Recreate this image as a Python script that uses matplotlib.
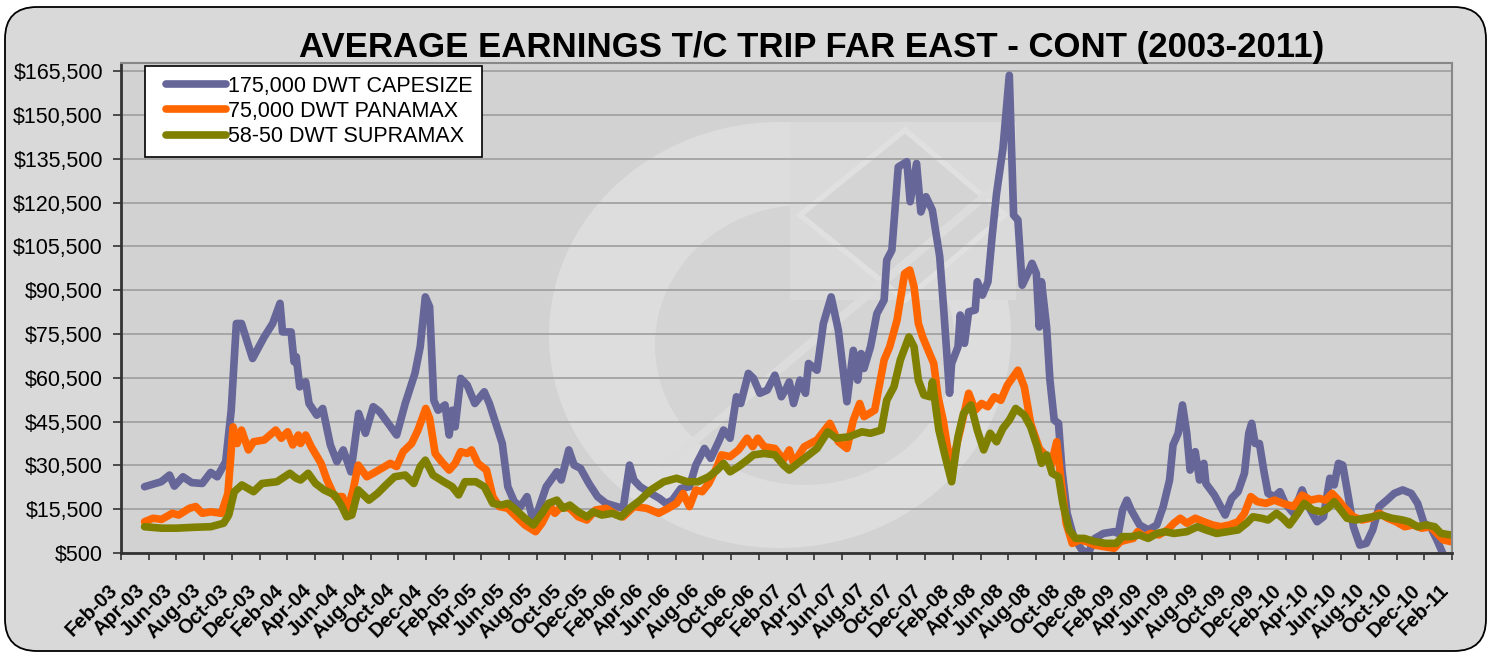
import numpy as np
import matplotlib.pyplot as plt
from matplotlib.patches import FancyBboxPatch, Ellipse, Polygon, Rectangle
from matplotlib.transforms import ScaledTranslation
from matplotlib.legend_handler import HandlerLine2D

plt.rcParams['font.family'] = ['Liberation Sans', 'DejaVu Sans']

# x = months since Feb-2003, y = USD thousands per day
cape_x = [1.7, 2.9, 3.5, 3.85, 4.47, 5.1, 5.86, 6.47, 6.94, 7.55, 7.95, 8.32, 8.69, 9.49, 10.33,
          10.94, 11.47, 11.65, 12.27, 12.48, 12.64, 12.89, 13.32, 13.56, 14.12, 14.55, 15.1, 15.57,
          16.03, 16.58, 16.89, 17.14, 17.63, 18.19, 18.65, 19.27, 19.88, 20.5, 21.2, 21.58, 21.95,
          22.26, 22.56, 22.87, 23.37, 23.67, 23.89, 24.1, 24.5, 24.97, 25.52, 26.2, 26.57, 27.07,
          27.5, 27.9, 28.36, 28.82, 29.28, 29.75, 30.05, 30.67, 31.44, 31.75, 32.3, 32.68, 33.14,
          33.75, 34.37, 34.99, 35.76, 36.22, 36.68, 36.99, 37.45, 38.22, 38.84, 39.3, 39.77, 40.38,
          41.0, 41.46, 42.08, 42.54, 43.16, 43.46, 43.93, 44.39, 44.7, 45.25, 45.62, 46.08, 46.61,
          47.16, 47.63, 48.0, 48.2, 48.51, 48.97, 49.37, 49.59, 50.2, 50.66, 51.22, 51.74, 52.36,
          52.82, 53.13, 53.38, 53.59, 54.06, 54.52, 55.04, 55.23, 55.6, 56.06, 56.68, 56.92, 57.38,
          57.69, 58.06, 58.52, 59.05, 59.36, 59.76, 59.91, 60.37, 60.53, 60.84, 61.14, 61.61, 61.76,
          62.13, 62.53, 62.84, 63.15, 63.61, 64.07, 64.38, 64.69, 65.0, 65.4, 65.71, 66.02, 66.23,
          66.39, 66.76, 67.0, 67.31, 67.62, 67.87, 68.24, 68.7, 69.31, 69.78, 70.24, 70.86, 71.63,
          71.93, 72.24, 72.55, 72.86, 73.47, 74.09, 74.71, 75.17, 75.63, 75.88, 76.25, 76.56, 76.87,
          77.11, 77.48, 77.79, 78.1, 78.25, 78.87, 79.64, 80.1, 80.57, 81.03, 81.34, 81.55, 81.8,
          82.11, 82.42, 82.73, 83.19, 83.59, 83.96, 84.57, 85.19, 85.65, 86.27, 86.73, 87.19, 87.5,
          87.81, 88.12, 88.52, 88.89, 89.35, 89.82, 90.28, 90.75, 91.3, 91.83, 92.44, 93.06, 93.52,
          93.98, 94.44, 94.91, 95.37, 95.9]
cape_y = [23.2, 24.9, 27.2, 23.4, 26.6, 24.6, 24.3, 28.1, 26.6, 31.8, 49.4, 79.1, 79.1, 67.1, 74.5,
          79.1, 86.0, 76.2, 76.2, 66.0, 67.7, 57.4, 59.1, 51.7, 47.7, 50.0, 37.5, 31.8,
          35.8, 28.3, 39.2, 48.3, 41.5, 50.6, 48.9, 44.9, 40.9, 51.7, 62.0, 71.1, 88.2,
          84.8, 52.8, 49.4, 51.2, 40.9, 49.4, 43.7, 60.3, 58.0, 51.7, 55.7, 51.7, 44.3,
          38.0, 23.2, 18.1, 16.4, 19.8, 11.2, 14.6, 23.2, 28.3, 25.5, 35.8, 30.6, 29.5,
          24.3, 19.8, 17.5, 16.4, 15.8, 30.6, 25.5, 23.2, 20.9, 19.2, 17.5, 18.6, 22.6,
          23.2, 30.6, 36.3, 32.9, 39.2, 42.6, 39.8, 54.0, 51.7, 62.0, 60.3, 55.2, 56.3,
          61.4, 54.0, 57.0, 59.1, 51.7, 59.7, 55.2, 65.4, 63.1, 79.1, 88.2, 76.8, 52.3,
          69.9, 59.7, 68.8, 63.7, 71.1, 82.5, 87.1, 100.8, 104.2, 132.7, 134.5, 120.8, 133.9,
          117.3, 122.5, 117.9, 102.0, 82.5, 55.2, 65.4, 71.1, 82.0, 72.3, 83.1, 83.7, 93.4,
          88.8, 93.4, 109.4, 123.6, 139.0, 164.1, 116.2, 114.5, 92.2, 96.2, 99.7, 96.2, 77.9,
          93.4, 77.9, 59.7, 46.0, 44.9, 28.9, 14.1, 6.1, 1.5, 0.5, 5.5, 7.2, 7.8,
          7.2, 15.2, 18.6, 15.2, 10.1, 8.4, 10.1, 16.4, 25.5, 37.5, 41.5, 51.2, 41.5,
          28.9, 35.2, 25.5, 31.2, 24.3, 20.3, 13.5, 19.2, 21.5, 27.8, 41.5, 44.9, 38.0,
          38.0, 28.9, 20.9, 19.8, 21.5, 17.5, 14.1, 22.1, 16.4, 11.2, 12.9, 26.1, 23.8,
          31.2, 30.6, 19.8, 9.5, 3.2, 3.8, 8.4, 16.4, 18.6, 20.9, 22.1, 20.9, 17.5,
          10.7, 9.5, 5.0, 0.0, -4.0]

pana_x = [1.7, 2.31, 2.93, 3.7, 4.16, 4.93, 5.39, 5.86, 6.47, 7.24, 7.71, 8.08, 8.38, 8.69, 9.19,
          9.56, 10.33, 11.16, 11.56, 12.02, 12.39, 12.79, 12.95, 13.32, 13.72, 14.43, 14.86, 15.41,
          15.97, 16.34, 16.74, 17.11, 17.73, 18.19, 18.8, 19.42, 19.88, 20.35, 20.96, 21.42, 21.98,
          22.26, 22.66, 23.12, 23.67, 24.1, 24.5, 24.97, 25.28, 25.74, 26.36, 26.82, 27.28, 27.9,
          28.51, 29.13, 29.9, 30.36, 30.98, 31.29, 31.75, 32.37, 32.98, 33.6, 34.22, 34.99, 35.76,
          36.22, 36.99, 37.92, 38.78, 39.46, 40.07, 40.54, 41.0, 41.46, 41.92, 42.39, 43.0, 43.31,
          43.93, 44.54, 45.16, 45.56, 45.93, 46.39, 47.16, 47.78, 48.2, 48.51, 49.28, 50.2, 51.13,
          51.74, 52.36, 52.82, 53.28, 53.59, 54.36, 55.04, 55.44, 55.97, 56.52, 56.89, 57.2, 57.51,
          57.82, 58.22, 58.62, 58.93, 59.3, 59.76, 60.07, 60.53, 61.14, 61.61, 62.07, 62.53, 62.99,
          63.46, 63.92, 64.69, 65.15, 65.61, 66.23, 66.76, 67.06, 67.49, 67.77, 68.17, 68.61, 69.16,
          69.62, 70.24, 70.86, 71.63, 72.09, 72.55, 73.01, 73.32, 73.78, 74.25, 74.86, 75.48, 75.94,
          76.4, 76.87, 77.48, 78.1, 78.72, 79.33, 79.95, 80.57, 81.03, 81.49, 81.95, 82.57, 83.19,
          83.8, 84.57, 85.19, 85.81, 86.42, 86.88, 87.35, 87.81, 88.27, 88.89, 89.51, 90.12, 90.75,
          91.36, 91.97, 92.59, 93.2, 93.82, 94.44, 94.91, 95.37, 95.9]
pana_y = [11.2, 12.4, 12.0, 14.1, 13.5, 15.8, 16.4, 14.1, 14.6, 14.1, 20.9, 43.7, 38.0, 42.6, 35.8,
          38.6, 39.2, 42.6, 39.8, 42.0, 37.5, 40.9, 38.0, 40.9, 36.9, 31.2, 25.5, 19.8,
          19.8, 15.2, 22.1, 30.6, 26.6, 27.8, 29.5, 31.2, 30.1, 35.2, 38.0, 42.6, 50.0,
          46.6, 34.6, 31.8, 28.9, 31.2, 35.2, 34.6, 35.8, 31.2, 28.9, 19.8, 16.4, 15.8,
          12.9, 10.1, 7.8, 10.7, 16.4, 14.1, 16.4, 15.8, 12.9, 11.8, 15.2, 15.8, 13.5,
          12.9, 16.4, 15.8, 14.1, 15.8, 17.5, 20.9, 16.4, 22.1, 21.5, 24.3, 30.1, 34.1,
          33.5, 35.8, 39.8, 36.9, 39.8, 36.9, 36.3, 32.4, 35.8, 31.2, 36.9, 39.2, 44.9,
          38.6, 36.3, 46.0, 51.7, 47.2, 49.4, 66.6, 71.1, 80.2, 96.2, 97.4, 91.7, 79.1,
          74.5, 69.9, 65.4, 54.0, 46.0, 32.4, 33.5, 42.6, 55.2, 49.4, 51.7, 50.6, 54.0,
          52.8, 57.9, 63.1, 57.4, 44.9, 36.3, 33.5, 30.1, 38.6, 26.6, 10.7, 3.8, 5.0,
          4.4, 3.2, 2.7, 2.1, 4.4, 5.0, 5.5, 7.8, 6.1, 7.2, 6.7, 8.4, 10.7,
          12.4, 10.7, 12.4, 11.2, 10.1, 9.5, 10.1, 11.2, 14.1, 19.8, 18.1, 17.5, 18.6,
          17.5, 16.4, 20.3, 18.6, 19.2, 18.6, 20.9, 18.6, 15.8, 12.9, 11.8, 12.4, 14.1,
          12.4, 11.2, 9.5, 10.1, 9.0, 9.5, 7.2, 5.0, 4.4]

supra_x = [1.7, 2.93, 4.0, 5.24, 6.47, 7.4, 7.77, 8.17, 8.72, 9.56, 10.17, 11.25, 12.18, 12.64,
           12.95, 13.5, 14.03, 14.64, 15.41, 15.88, 16.28, 16.65, 17.11, 17.88, 18.5, 19.11, 19.73,
           20.5, 21.12, 21.58, 21.95, 22.5, 23.27, 23.89, 24.35, 24.81, 25.59, 26.2, 26.82, 27.44,
           27.9, 28.36, 29.13, 29.75, 30.36, 30.83, 31.44, 31.9, 32.37, 32.98, 33.6, 34.06, 34.68,
           35.45, 36.07, 36.68, 37.45, 38.22, 39.15, 40.07, 40.84, 41.62, 42.39, 43.0, 43.46, 43.93,
           44.54, 45.16, 45.62, 46.39, 47.16, 47.78, 48.2, 48.82, 49.43, 50.2, 50.97, 51.59, 52.51,
           53.44, 54.06, 54.83, 55.23, 55.75, 56.21, 56.83, 57.2, 57.51, 57.91, 58.37, 58.52, 58.99,
           59.45, 59.91, 60.37, 60.77, 61.3, 61.76, 62.22, 62.69, 63.15, 63.61, 64.07, 64.53, 65.15,
           65.61, 66.08, 66.39, 66.76, 67.16, 67.62, 67.93, 68.39, 68.85, 69.47, 70.24, 71.0, 71.78,
           72.24, 72.86, 73.47, 74.09, 74.71, 75.32, 75.94, 76.87, 77.64, 78.25, 79.02, 79.8, 80.57,
           81.18, 81.64, 82.26, 82.73, 83.34, 83.8, 84.27, 84.88, 85.34, 85.96, 86.58, 87.04, 87.5,
           87.97, 88.43, 89.05, 89.66, 90.28, 90.89, 91.66, 92.44, 92.9, 93.52, 94.13, 94.75, 95.21,
           95.9]
supra_y = [9.5, 9.0, 9.0, 9.3, 9.5, 10.7, 13.5, 21.5, 23.8, 21.5, 24.3, 24.9, 27.8, 26.1,
           25.5, 27.8, 24.3, 22.1, 20.4, 16.9, 12.9, 13.5, 22.1, 18.6, 20.9, 23.8, 26.6,
           27.2, 24.3, 30.1, 32.3, 27.2, 24.9, 23.2, 20.4, 24.9, 24.9, 23.2, 17.5, 16.9,
           17.5, 15.8, 12.4, 10.1, 14.1, 17.5, 18.6, 15.8, 16.9, 14.6, 12.9, 14.6, 13.5,
           14.1, 12.9, 15.8, 18.6, 22.1, 24.9, 26.1, 24.9, 24.9, 26.6, 28.9, 31.2, 28.3,
           30.1, 32.3, 34.1, 34.6, 34.1, 30.6, 28.9, 31.2, 33.5, 36.3, 42.0, 39.8, 40.3,
           42.0, 41.5, 42.6, 52.8, 57.4, 66.6, 74.5, 71.1, 59.7, 54.6, 54.0, 59.1, 42.6,
           33.5, 24.9, 40.3, 48.3, 51.2, 42.6, 35.8, 41.5, 38.6, 43.2, 46.0, 50.0, 47.7,
           43.7, 36.9, 31.2, 34.1, 27.8, 26.6, 17.5, 8.4, 5.5, 5.5, 4.4, 3.8, 3.8,
           6.1, 6.1, 6.7, 5.5, 7.2, 7.8, 7.2, 7.8, 9.5, 8.4, 7.2, 7.8, 8.4,
           10.7, 12.9, 12.4, 11.8, 14.1, 12.4, 10.1, 14.1, 17.5, 15.2, 14.6, 15.8, 18.1,
           15.2, 12.4, 11.8, 12.4, 12.9, 13.5, 12.4, 11.8, 11.2, 9.5, 10.1, 9.5, 7.2,
           6.7]

series_names = ['175,000 DWT CAPESIZE', '75,000 DWT PANAMAX', '58-50 DWT SUPRAMAX']
series_colors = ['#666699', '#FF6600', '#808000']

month_names = ['Feb', 'Apr', 'Jun', 'Aug', 'Oct', 'Dec']
tick_pos = np.arange(0, 97, 2)
tick_labels = [f"{month_names[i % 6]}-{3 + i // 6:02d}" for i in range(len(tick_pos))]
y_ticks = np.arange(500, 165501, 15000)

W, H = 1489, 653
fig = plt.figure(figsize=(W / 100, H / 100), dpi=100)
fig.patch.set_facecolor('white')

# background canvas in pixel coordinates
bg = fig.add_axes([0, 0, 1, 1], zorder=0)
bg.set_xlim(0, W)
bg.set_ylim(H, 0)
bg.axis('off')
bg.add_patch(FancyBboxPatch((5, 7), 1481, 644, boxstyle='round,pad=0,rounding_size=32',
                            facecolor='#d9d9d9', edgecolor='black', linewidth=1.3))
bg.add_patch(Rectangle((121, 63), 1331, 490, facecolor='#d2d2d2', edgecolor='none'))
# faint watermark logo
bg.add_patch(Ellipse((780, 335), 462, 426, facecolor='#dddddd', edgecolor='none'))
bg.add_patch(Ellipse((805, 345), 300, 280, facecolor='#d4d4d4', edgecolor='none'))
bg.add_patch(Polygon([(790, 122), (1016, 122), (1016, 300), (790, 300)], closed=True,
                     facecolor='#dadada', edgecolor='none'))
bg.add_patch(Polygon([(800, 215), (905, 130), (1005, 215), (905, 300)], closed=True,
                     facecolor='#d4d4d4', edgecolor='#e0e0e0', linewidth=4))
bg.plot([660, 1010], [470, 175], color='#dcdcdc', linewidth=6, solid_capstyle='butt')

ax = fig.add_axes([121 / W, 1 - 553 / H, 1331 / W, 490 / H], zorder=1)
ax.set_facecolor('none')

for xs, ys, name, col in zip([cape_x, pana_x, supra_x], [cape_y, pana_y, supra_y],
                             series_names, series_colors):
    ax.plot(xs, np.array(ys) * 1000, color=col, linewidth=5.5, label=name,
            solid_joinstyle='round', solid_capstyle='round')

ax.set_xlim(0, 96)
ax.set_ylim(500, 168300)
ax.set_yticks(y_ticks)
ax.set_yticklabels([f"${v:,}" for v in y_ticks], fontsize=15.5)
ax.set_xticks(tick_pos)
ax.set_xticklabels(tick_labels, rotation=45, ha='right', va='top', fontsize=14.5,
                   fontweight='bold')
shift = ScaledTranslation(-9 / 100, 0, fig.dpi_scale_trans)
for lab in ax.get_xticklabels():
    lab.set_transform(lab.get_transform() + shift)
ax.tick_params(axis='x', direction='out', length=5, width=1.2, pad=15, color='#333333')
ax.tick_params(axis='y', direction='out', length=6, width=1.2, pad=7, color='#333333')
ax.grid(axis='y', color='#999999', linewidth=1.1)
ax.set_axisbelow(True)
for side in ['left', 'bottom']:
    ax.spines[side].set_color('#333333')
    ax.spines[side].set_linewidth(2)
for side in ['top', 'right']:
    ax.spines[side].set_color('#888888')
    ax.spines[side].set_linewidth(1.5)

leg = ax.legend(loc='upper left', bbox_to_anchor=(0.018, 0.994), borderaxespad=0,
                fontsize=15.5, handlelength=3.3, handletextpad=0.1, labelspacing=0.2,
                borderpad=0.45, fancybox=False, framealpha=1, facecolor='white',
                edgecolor='black', handler_map={plt.Line2D: HandlerLine2D(xpad=0.55)})
leg.get_frame().set_linewidth(1.2)

fig.text(812 / W, 1 - 48 / H, 'AVERAGE EARNINGS T/C TRIP FAR EAST - CONT (2003-2011)',
         ha='center', va='center', fontsize=25, fontweight='bold')

fig.savefig('out.png', dpi=100)
